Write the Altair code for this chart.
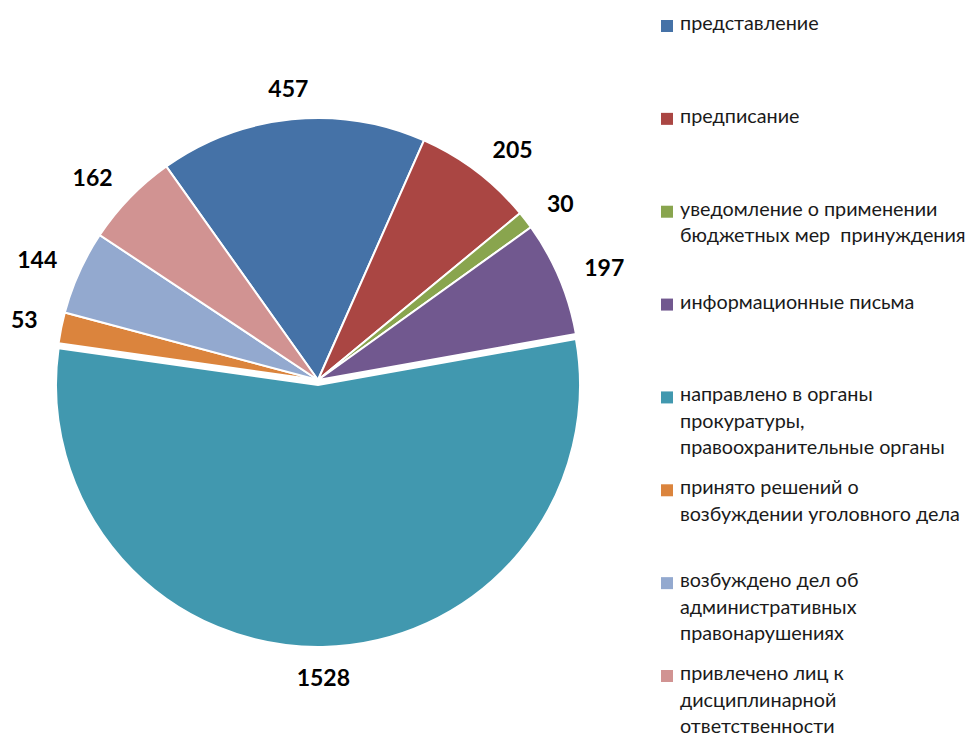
import math
import altair as alt
import pandas as pd

categories = [
    "представление",
    "предписание",
    "уведомление о применении бюджетных мер  принуждения",
    "информационные письма",
    "направлено в органы прокуратуры, правоохранительные органы",
    "принято решений о возбуждении уголовного дела",
    "возбуждено дел об административных правонарушениях",
    "привлечено лиц к дисциплинарной ответственности",
]
legend_labels = [
    "представление",
    "предписание",
    "уведомление о применении\nбюджетных мер\u00a0 принуждения",
    "информационные письма",
    "направлено в органы\nпрокуратуры,\nправоохранительные органы",
    "принято решений о\nвозбуждении уголовного дела",
    "возбуждено дел об\nадминистративных\nправонарушениях",
    "привлечено лиц к\nдисциплинарной\nответственности",
]
values = [457, 205, 30, 197, 1528, 53, 144, 162]
colors = ["#4572A7", "#AA4643", "#89A54E", "#71588F", "#4198AF", "#DB843D", "#93A9CF", "#D19392"]
exploded = "направлено в органы прокуратуры, правоохранительные органы"

df = pd.DataFrame({
    "cat": categories,
    "label": legend_labels,
    "value": values,
    "i": list(range(len(values))),
})

start = -35.4 * math.pi / 180
theta_scale = alt.Scale(range=[start, start + 2 * math.pi])
color_scale = alt.Scale(domain=categories, range=colors)

CX, CY, R = 310, 372, 262

base = alt.Chart(df)

pie_main = base.mark_arc(outerRadius=R, stroke="white", strokeWidth=2).encode(
    theta=alt.Theta("value:Q", stack=True, scale=theta_scale),
    color=alt.Color("cat:N", scale=color_scale, legend=None),
    order=alt.Order("i:Q"),
    opacity=alt.condition(alt.datum.cat == exploded, alt.value(0), alt.value(1)),
    x=alt.value(CX),
    y=alt.value(CY),
)

pie_expl = base.mark_arc(outerRadius=R, stroke="white", strokeWidth=2, yOffset=5).encode(
    theta=alt.Theta("value:Q", stack=True, scale=theta_scale),
    color=alt.Color("cat:N", scale=color_scale, legend=None),
    order=alt.Order("i:Q"),
    opacity=alt.condition(alt.datum.cat == exploded, alt.value(1), alt.value(0)),
    x=alt.value(CX),
    y=alt.value(CY),
)

# side of each label from its slice mid-angle
side_base = base.transform_joinaggregate(
    total="sum(value)"
).transform_window(
    cum="sum(value)", sort=[alt.SortField("i")], frame=[None, 0]
).transform_calculate(
    mid=f"{start} + 2*PI*(datum.cum - datum.value/2)/datum.total"
).transform_calculate(
    side="sin(datum.mid) > 0.3 ? 'right' : (sin(datum.mid) < -0.3 ? 'left' : 'center')"
)


def label_layer(side, align, radius, dy):
    return side_base.mark_text(
        radius=radius, align=align, dy=dy, font="Lato", fontWeight="bold", fontSize=23, color="black"
    ).encode(
        theta=alt.Theta("value:Q", stack=True, scale=theta_scale),
        order=alt.Order("i:Q"),
        text=alt.Text("value:Q"),
        opacity=alt.condition(alt.datum.side == side, alt.value(1), alt.value(0)),
        x=alt.value(CX),
        y=alt.value(CY),
    )


lab_right = label_layer("right", "left", 289, 1)
lab_left = label_layer("left", "right", 286, -2)
lab_center = label_layer("center", "center", 295, 4)

legend_y = alt.Y("cat:N", scale=alt.Scale(type="point", domain=categories, range=[18, 668], padding=0), axis=None)

leg_sq = base.mark_square(size=144, opacity=1).encode(
    x=alt.value(659),
    y=legend_y,
    color=alt.Color("cat:N", scale=color_scale, legend=None),
)

leg_txt = base.mark_text(align="left", baseline="top", dy=-12, font="Lato", fontSize=19.8,
                         lineHeight=26.5, lineBreak="\n", color="#1a1a1a").encode(
    x=alt.value(672),
    y=legend_y,
    text="label:N",
)

chart = alt.layer(pie_main, pie_expl, lab_right, lab_left, lab_center, leg_sq, leg_txt).properties(
    width=958, height=732, autosize=alt.AutoSizeParams(type="none"), padding=0
).configure_view(stroke=None)

chart.save("out.html", embed_options={"renderer": "svg", "actions": False})
